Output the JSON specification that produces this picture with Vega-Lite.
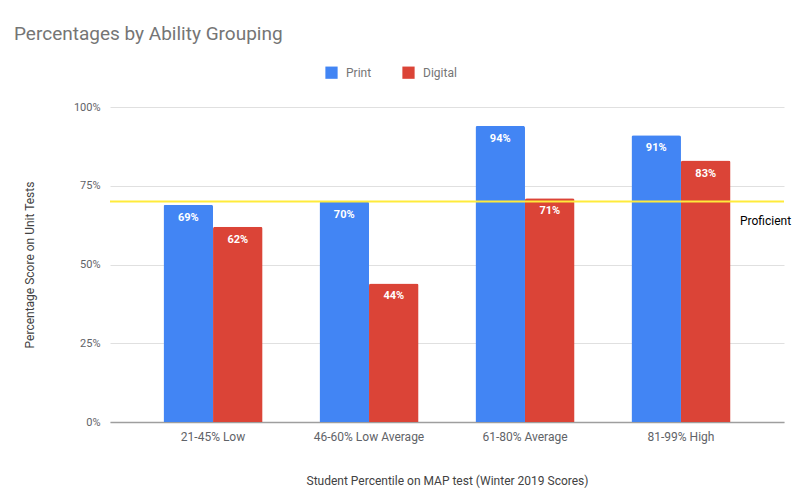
{
  "$schema": "https://vega.github.io/schema/vega-lite/v6.json",
  "width": 674,
  "height": 315,
  "autosize": {"type": "none"},
  "padding": {"left": 110, "top": 107, "right": 20, "bottom": 81},
  "title": {
    "text": "Percentages by Ability Grouping",
    "anchor": "start",
    "frame": "group",
    "dx": -96,
    "fontSize": 19,
    "font": "Roboto",
    "fontWeight": "normal",
    "color": "#757575",
    "offset": 22
  },
  "config": {
    "view": {"stroke": null},
    "font": "Roboto"
  },
  "layer": [
    {
      "data": {
        "values": [
          {"group": "21-45% Low", "type": "Print", "value": 0.69},
          {"group": "21-45% Low", "type": "Digital", "value": 0.62},
          {"group": "46-60% Low Average", "type": "Print", "value": 0.70},
          {"group": "46-60% Low Average", "type": "Digital", "value": 0.44},
          {"group": "61-80%  Average", "type": "Print", "value": 0.94},
          {"group": "61-80%  Average", "type": "Digital", "value": 0.71},
          {"group": "81-99% High", "type": "Print", "value": 0.91},
          {"group": "81-99% High", "type": "Digital", "value": 0.83}
        ]
      },
      "encoding": {
        "x": {
          "field": "group",
          "type": "nominal",
          "sort": null,
          "scale": {"paddingInner": 0.365, "paddingOuter": 0.343},
          "axis": {
            "title": "Student Percentile on MAP test (Winter 2019 Scores)",
            "labelAngle": 0,
            "ticks": false,
            "domainColor": "#9e9e9e",
            "domainWidth": 1.5,
            "labelColor": "#5f6368",
            "labelFontSize": 12,
            "labelPadding": 9,
            "titleFontSize": 12,
            "titleFontWeight": "normal",
            "titleColor": "#424242",
            "titlePadding": 33
          }
        },
        "xOffset": {"field": "type", "type": "nominal", "sort": ["Print", "Digital"]},
        "y": {
          "field": "value",
          "type": "quantitative",
          "scale": {"domain": [0, 1]},
          "axis": {
            "title": "Percentage Score on Unit Tests",
            "values": [0, 0.25, 0.5, 0.75, 1],
            "format": ".0%",
            "domain": false,
            "ticks": false,
            "gridColor": "#e0e0e0",
            "labelColor": "#5f6368",
            "labelFontSize": 11,
            "labelPadding": 10,
            "titleFontSize": 12,
            "titleFontWeight": "normal",
            "titleColor": "#424242",
            "titlePadding": 37
          }
        }
      },
      "layer": [
        {
          "mark": {"type": "bar", "cornerRadiusTopLeft": 2, "cornerRadiusTopRight": 2},
          "encoding": {
            "color": {
              "field": "type",
              "type": "nominal",
              "sort": ["Print", "Digital"],
              "scale": {"domain": ["Print", "Digital"], "range": ["#4285F4", "#DB4437"]},
              "legend": {
                "title": null,
                "orient": "none",
                "direction": "horizontal",
                "legendX": 215,
                "legendY": -41,
                "symbolType": "square",
                "symbolSize": 150,
                "symbolStrokeWidth": 0,
                "labelFontSize": 12,
                "labelColor": "#757575",
                "labelOffset": 8,
                "columnPadding": 30
              }
            }
          }
        },
        {
          "mark": {"type": "text", "color": "white", "fontSize": 11, "fontWeight": "bold", "baseline": "middle", "dy": 13},
          "encoding": {
            "text": {"field": "value", "type": "quantitative", "format": ".0%"}
          }
        }
      ]
    },
    {
      "data": {"values": [{"label": "Proficient", "value": 0.7, "group": "81-99% High"}]},
      "layer": [
        {
          "mark": {"type": "rule", "color": "#ffeb3b", "strokeWidth": 2},
          "encoding": {
            "y": {"field": "value", "type": "quantitative"}
          }
        },
        {
          "mark": {"type": "text", "align": "left", "baseline": "middle", "dx": 59, "dy": 19, "fontSize": 12, "color": "#000000", "clip": false},
          "encoding": {
            "x": {"field": "group", "type": "nominal"},
            "y": {"field": "value", "type": "quantitative"},
            "text": {"field": "label"}
          }
        }
      ]
    }
  ]
}
